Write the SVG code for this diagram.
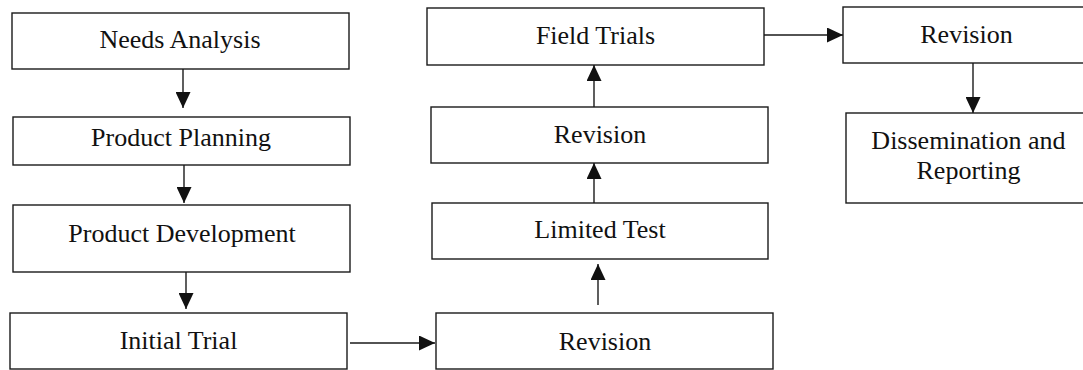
<svg xmlns="http://www.w3.org/2000/svg" width="1083" height="370" viewBox="0 0 1083 370">
  <style>
    .box { fill: #ffffff; stroke: #1a1a1a; stroke-width: 1.4; }
    .lbl { font-family: "Liberation Serif", "Times New Roman", serif; font-size: 26px; fill: #111111; text-anchor: middle; }
    .link { stroke: #1a1a1a; stroke-width: 1.4; fill: none; marker-end: url(#head); }
  </style>
  <defs>
    <marker id="head" markerUnits="userSpaceOnUse" markerWidth="16" markerHeight="15" refX="16" refY="7.5" orient="auto">
      <path d="M0,0 L16,7.5 L0,15 Z" fill="#111111"/>
    </marker>
  </defs>
  <rect width="1083" height="370" fill="#ffffff"/>

  <g id="needs-analysis">
    <rect class="box" x="12" y="13" width="337" height="56"/>
    <text class="lbl" x="180" y="48">Needs Analysis</text>
  </g>
  <g id="product-planning">
    <rect class="box" x="13" y="117" width="337" height="48"/>
    <text class="lbl" x="181" y="146">Product Planning</text>
  </g>
  <g id="product-development">
    <rect class="box" x="13" y="205" width="337" height="67"/>
    <text class="lbl" x="182" y="242">Product Development</text>
  </g>
  <g id="initial-trial">
    <rect class="box" x="10" y="313" width="337" height="56"/>
    <text class="lbl" x="178.5" y="349">Initial Trial</text>
  </g>
  <g id="revision-1">
    <rect class="box" x="436" y="313" width="337" height="56"/>
    <text class="lbl" x="605" y="350">Revision</text>
  </g>
  <g id="limited-test">
    <rect class="box" x="432" y="203" width="336" height="56"/>
    <text class="lbl" x="600" y="238">Limited Test</text>
  </g>
  <g id="revision-2">
    <rect class="box" x="431" y="107" width="337" height="56"/>
    <text class="lbl" x="600" y="143">Revision</text>
  </g>
  <g id="field-trials">
    <rect class="box" x="427" y="8" width="337" height="57"/>
    <text class="lbl" x="595.5" y="44">Field Trials</text>
  </g>
  <g id="revision-3">
    <rect class="box" x="843" y="7" width="250" height="56"/>
    <text class="lbl" x="966.5" y="43">Revision</text>
  </g>
  <g id="dissemination">
    <rect class="box" x="846" y="113" width="250" height="90"/>
    <text class="lbl" x="968.5" y="149">Dissemination and</text>
    <text class="lbl" x="968.5" y="179">Reporting</text>
  </g>

  <g id="connectors">
    <line class="link" x1="183" y1="69" x2="183" y2="108"/>
    <line class="link" x1="184" y1="165" x2="184" y2="203"/>
    <line class="link" x1="186" y1="272" x2="186" y2="309"/>
    <line class="link" x1="350" y1="343" x2="435" y2="343"/>
    <line class="link" x1="598" y1="305" x2="598" y2="264"/>
    <line class="link" x1="594" y1="203" x2="594" y2="163"/>
    <line class="link" x1="594" y1="107" x2="594" y2="65"/>
    <line class="link" x1="764" y1="35" x2="843" y2="35"/>
    <line class="link" x1="973" y1="63" x2="973" y2="113"/>
  </g>
</svg>
